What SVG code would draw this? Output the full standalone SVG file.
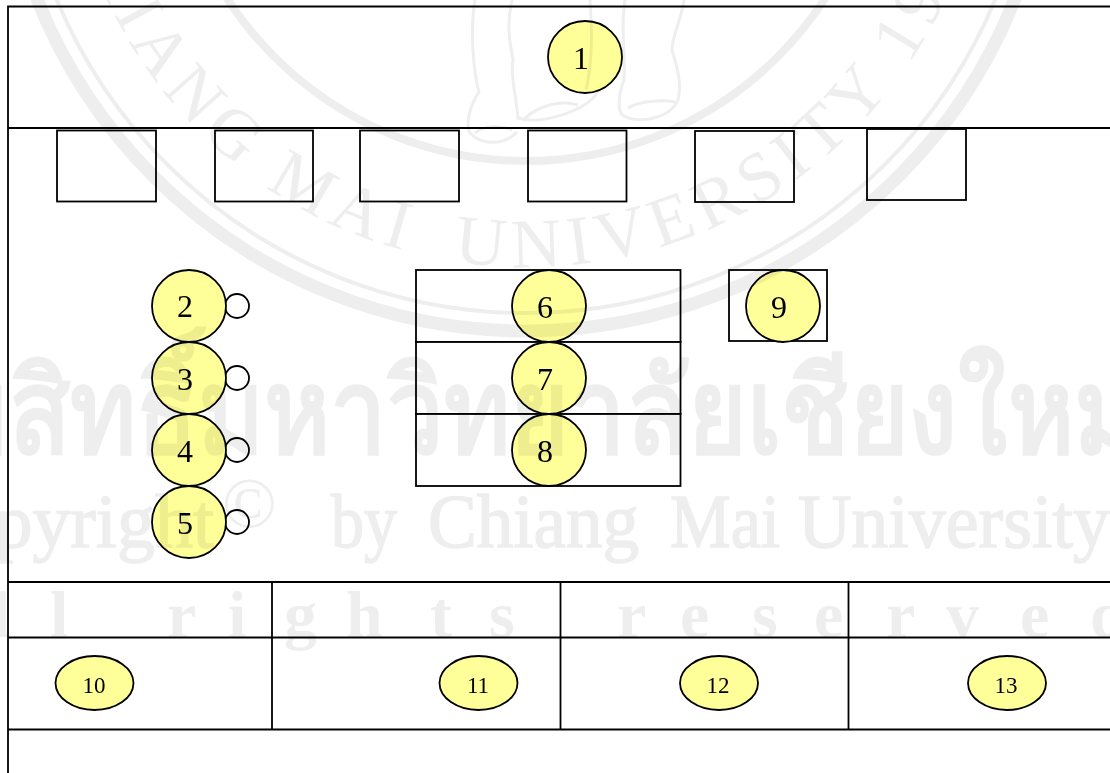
<svg xmlns="http://www.w3.org/2000/svg" width="1110" height="773" viewBox="0 0 1110 773">
<style>
.l{fill:none;stroke:#000;stroke-width:1.8}
.b{fill:#fff;stroke:#000;stroke-width:1.8}
.y{fill:#ffff99;stroke:#000;stroke-width:1.8}
.t{font-family:"Liberation Serif","Times New Roman",serif;font-size:32px;text-anchor:middle;fill:#000}
.s{font-size:23px}
.wm{mix-blend-mode:multiply}
.wr{fill:none;stroke:#eee}
.wt{font-family:"Liberation Serif",serif;fill:#eee}
.wh{stroke:#eee;stroke-width:1.5;font-size:76px}
.wb{font-family:"Noto Sans","DejaVu Sans",sans-serif;fill:#eee}
</style>
<defs><path id="arc" d="M64 -195A462 462 0 0 0 988 -195"/></defs>
<rect width="1110" height="773" fill="#fff"/>
<g id="frame">
<path class="l" d="M1110 6.500H8V773M8 128H1110M8 582H1110M8 637.500H1110M8 729.500H1110M272 582V729.500M560.500 582V729.500M848.500 582V729.500"/>
</g>
<g id="connectors"></g>
<g id="tabs">
<rect id="tab1" class="b" x="57" y="130.500" width="99" height="71"/>
<rect id="tab2" class="b" x="215" y="130.500" width="98" height="71"/>
<rect id="tab3" class="b" x="360" y="130.500" width="99" height="71"/>
<rect id="tab4" class="b" x="528" y="130.500" width="98.500" height="71"/>
<rect id="tab5" class="b" x="695" y="131" width="99" height="71"/>
<rect id="tab6" class="b" x="867" y="129" width="99" height="71"/>
</g>
<g id="row6"><rect class="b" x="416" y="270" width="264.500" height="72"/></g>
<g id="row7"><rect class="b" x="416" y="342" width="264.500" height="72"/></g>
<g id="row8"><rect class="b" x="416" y="414" width="264.500" height="72"/></g>
<g id="box9"><rect class="b" x="729" y="270" width="98" height="71"/></g>
<g id="n1"><ellipse class="y" cx="585" cy="57" rx="37" ry="36"/><text class="t" x="581" y="69">1</text></g>
<g id="n2"><circle class="b" cx="237" cy="306" r="12"/><ellipse class="y" cx="189" cy="306" rx="37" ry="36"/><text class="t" x="185" y="317">2</text></g>
<g id="n3"><circle class="b" cx="237" cy="378" r="12"/><ellipse class="y" cx="189" cy="378" rx="37" ry="36"/><text class="t" x="185" y="390">3</text></g>
<g id="n4"><circle class="b" cx="237" cy="450" r="12"/><ellipse class="y" cx="189" cy="450" rx="37" ry="36"/><text class="t" x="185" y="462">4</text></g>
<g id="n5"><circle class="b" cx="237" cy="522" r="12"/><ellipse class="y" cx="189" cy="522" rx="37" ry="36"/><text class="t" x="185" y="534">5</text></g>
<g id="n6"><ellipse class="y" cx="549" cy="306" rx="37" ry="36"/><text class="t" x="545" y="318">6</text></g>
<g id="n7"><ellipse class="y" cx="549" cy="378" rx="37" ry="36"/><text class="t" x="545" y="390">7</text></g>
<g id="n8"><ellipse class="y" cx="549" cy="450" rx="37" ry="36"/><text class="t" x="545" y="462">8</text></g>
<g id="n9"><ellipse class="y" cx="783" cy="306" rx="37" ry="36"/><text class="t" x="779" y="318">9</text></g>
<g id="n10"><ellipse class="y" cx="94.500" cy="683" rx="39" ry="27"/><text class="t s" x="94" y="693">10</text></g>
<g id="n11"><ellipse class="y" cx="478.500" cy="683" rx="39" ry="27"/><text class="t s" x="478" y="693">11</text></g>
<g id="n12"><ellipse class="y" cx="719" cy="683" rx="39" ry="27"/><text class="t s" x="718" y="693">12</text></g>
<g id="n13"><ellipse class="y" cx="1007" cy="683" rx="39" ry="27"/><text class="t s" x="1006" y="693">13</text></g>
<g id="watermark" class="wm">
<circle class="wr" cx="526" cy="-195" r="356" stroke-width="8"/>
<circle class="wr" cx="526" cy="-195" r="508" stroke-width="4"/>
<circle class="wr" cx="526" cy="-195" r="526" stroke-width="13"/>
<text class="wt" font-size="70" letter-spacing="8"><textPath href="#arc" startOffset="50%" text-anchor="middle">CHIANG MAI <tspan dx="18">UNIVERSITY 1964</tspan></textPath></text>
<path fill="none" stroke="#eee" stroke-width="3" d="M475 0C470 30 473 70 479 92C470 105 465 125 470 133C482 146 505 145 517 132M512 0C505 30 512 50 513 60C510 75 516 95 518 118C540 125 585 112 598 92M590 0C592 30 593 60 586 90M625 0C620 30 626 60 624 80C618 95 618 110 622 115C640 125 670 118 678 100C682 85 678 70 672 50C672 35 680 25 684 0M475 133C485 125 500 125 512 130M525 118C540 105 560 100 578 105M628 108C640 100 665 100 675 102"/>
<text class="wb" transform="translate(509 453) scale(.855 1)" font-size="118" text-anchor="middle" font-weight="700">ลิขสิทธิ์มหาวิทยาลัยเชียงใหม่</text>
<text class="wt wh" y="547" x="214" text-anchor="end">Copyright</text>
<text class="wt" x="222" y="527" font-size="72">©</text>
<text class="wt wh" y="547" x="331" textLength="66" lengthAdjust="spacingAndGlyphs">by</text>
<text class="wt wh" y="547" x="428" textLength="211" lengthAdjust="spacingAndGlyphs">Chiang</text>
<text class="wt wh" y="547" x="670" textLength="110" lengthAdjust="spacingAndGlyphs">Mai</text>
<text class="wt wh" y="547" x="798" textLength="312" lengthAdjust="spacingAndGlyphs">University</text>
<text class="wt" y="637" font-size="66" font-weight="700"><tspan x="-60 -8 50 167 228 284 346 430 489 617 680 752 814 886 946 1020 1090">Allrightsreserved</tspan></text>
</g>
</svg>
